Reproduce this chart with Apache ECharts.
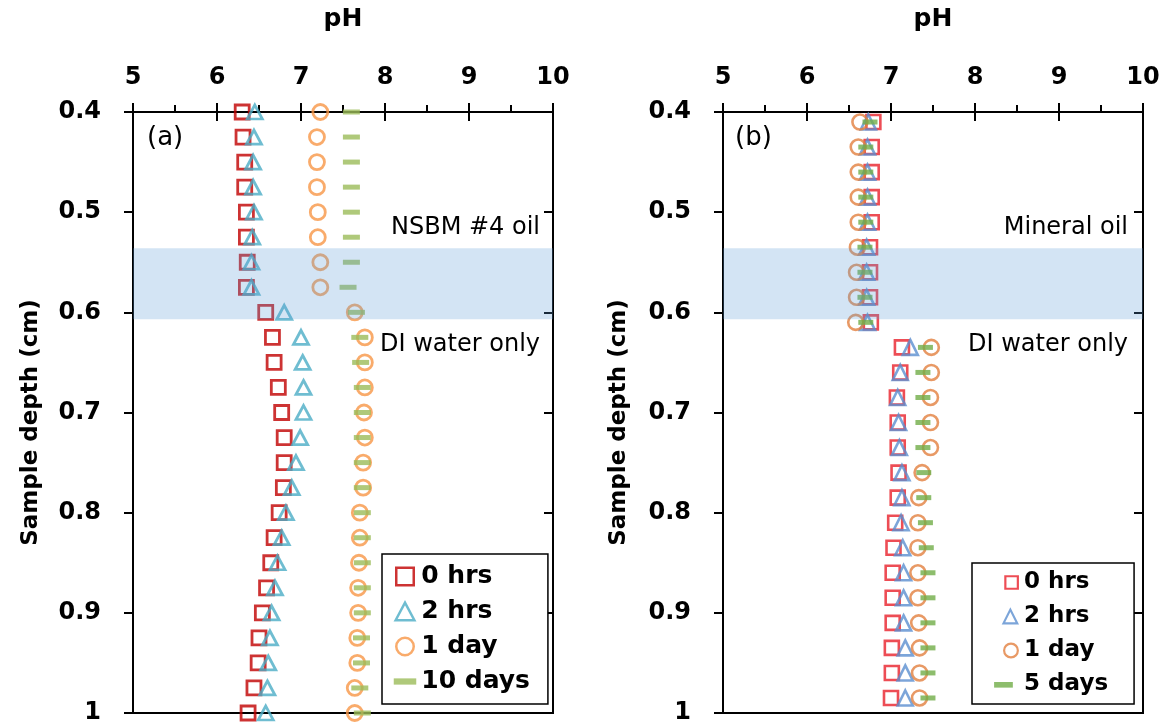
<!DOCTYPE html>
<html><head><meta charset="utf-8">
<script src="https://cdn.jsdelivr.net/npm/echarts@6/dist/echarts.min.js"></script>
<style>html,body{margin:0;padding:0;background:#fff}#c{width:1167px;height:727px}</style>
</head><body><div id="c"></div>
<script>
// ---------- DATA ----------
const xTickLabels = ['5','6','7','8','9','10'];
const yTickLabels = ['0.4','0.5','0.6','0.7','0.8','0.9','1'];
const seriesNamesA = ['0 hrs','2 hrs','1 day','10 days'];
const seriesNamesB = ['0 hrs','2 hrs','1 day','5 days'];
const oilBandA = [0.536, 0.607];
const oilBandB = [0.536, 0.607];

const depthA = [0.4,0.425,0.45,0.475,0.5,0.525,0.55,0.575,0.6,0.625,0.65,0.675,0.7,0.725,0.75,0.775,0.8,0.825,0.85,0.875,0.9,0.925,0.95,0.975,1.0];
const pHa0h  = [6.30,6.31,6.33,6.33,6.35,6.35,6.36,6.35,6.58,6.66,6.68,6.73,6.77,6.80,6.80,6.79,6.74,6.68,6.64,6.59,6.54,6.50,6.49,6.44,6.37];
const pHa2h  = [6.45,6.44,6.43,6.43,6.44,6.42,6.41,6.41,6.80,7.00,7.02,7.03,7.03,6.99,6.94,6.89,6.82,6.77,6.72,6.69,6.65,6.63,6.61,6.60,6.58];
const pHa1d  = [7.23,7.19,7.19,7.19,7.20,7.20,7.23,7.23,7.64,7.76,7.76,7.76,7.75,7.76,7.74,7.74,7.70,7.70,7.69,7.68,7.68,7.67,7.67,7.64,7.64];
const pHa10d = [7.60,7.60,7.60,7.60,7.60,7.60,7.60,7.56,7.66,7.70,7.71,7.73,7.73,7.73,7.73,7.73,7.73,7.73,7.73,7.73,7.73,7.72,7.72,7.70,7.73];

const depthB = [0.41,0.435,0.46,0.485,0.51,0.535,0.56,0.585,0.61,0.635,0.66,0.685,0.71,0.735,0.76,0.785,0.81,0.835,0.86,0.885,0.91,0.935,0.96,0.985];
const pHb0h = [6.79,6.77,6.77,6.77,6.77,6.75,6.75,6.75,6.76,7.13,7.11,7.07,7.08,7.08,7.09,7.08,7.05,7.03,7.02,7.02,7.02,7.01,7.01,7.00];
const pHb2h = [6.73,6.72,6.72,6.72,6.72,6.71,6.71,6.71,6.72,7.23,7.11,7.08,7.09,7.10,7.13,7.13,7.12,7.14,7.15,7.15,7.15,7.17,7.17,7.17];
const pHb1d = [6.63,6.61,6.61,6.61,6.61,6.60,6.59,6.59,6.58,7.48,7.48,7.47,7.47,7.47,7.37,7.33,7.32,7.32,7.32,7.32,7.33,7.34,7.34,7.34];
const pHb5d = [6.75,6.70,6.70,6.70,6.70,6.69,6.69,6.69,6.70,7.41,7.38,7.38,7.38,7.38,7.39,7.39,7.41,7.42,7.44,7.44,7.44,7.44,7.44,7.44];

// ---------- CHART ----------
const FONT = 'DejaVu Sans';
const pairs = (xs, ys) => xs.map((x, i) => [x, ys[i]]);

function xAxes(gridIndex) {
  return [
    { gridIndex, type:'value', position:'top', min:5, max:10, interval:1,
      name:'pH', nameLocation:'middle', nameGap:80,
      nameTextStyle:{fontFamily:FONT, fontWeight:'bold', fontSize:25, color:'#000'},
      axisLine:{onZero:false, lineStyle:{color:'#000', width:2}},
      axisTick:{show:true, inside:false, length:9, lineStyle:{color:'#000', width:2}},
      minorTick:{show:true, splitNumber:2, length:7, lineStyle:{color:'#000', width:2}},
      axisLabel:{margin:22, fontFamily:FONT, fontWeight:'bold', fontSize:24, color:'#000',
        formatter:(v)=>xTickLabels[Math.round(v-5)]},
      splitLine:{show:false}},
    { gridIndex, type:'value', position:'top', min:5, max:10, interval:1,
      axisLine:{show:false, onZero:false},
      axisTick:{show:true, inside:true, length:9, lineStyle:{color:'#000', width:2}},
      axisLabel:{show:false}, splitLine:{show:false}}
  ];
}
function yAxes(gridIndex, nameGap) {
  return [
    { gridIndex, type:'value', inverse:true, min:0.4, max:1, interval:0.1,
      name:'Sample depth (cm)', nameLocation:'middle', nameGap, nameRotate:90,
      nameTextStyle:{fontFamily:FONT, fontWeight:'bold', fontSize:23, color:'#000', padding:[0,20,0,0]},
      axisLine:{onZero:false, lineStyle:{color:'#000', width:2}},
      axisTick:{show:true, inside:false, length:9, lineStyle:{color:'#000', width:2}},
      axisLabel:{margin:32, fontFamily:FONT, fontWeight:'bold', fontSize:24, color:'#000',
        formatter:(v)=>yTickLabels[Math.round((v-0.4)*10)]},
      splitLine:{show:false}},
    { gridIndex, type:'value', inverse:true, min:0.4, max:1, interval:0.1,
      axisLine:{show:false, onZero:false},
      axisTick:{show:true, inside:true, length:9, lineStyle:{color:'#000', width:2}},
      axisLabel:{show:false}, splitLine:{show:false}}
  ];
}

function hollow(name, xi, yi, data, symbol, size, color, bw) {
  return { name, type:'scatter', xAxisIndex:xi, yAxisIndex:yi, data, symbol, symbolSize:size,
    itemStyle:{color:'rgba(255,255,255,0)', borderColor:color, borderWidth:bw}, z:2, silent:true };
}
function dash(name, xi, yi, data, size, color) {
  return { name, type:'scatter', xAxisIndex:xi, yAxisIndex:yi, data, symbol:'rect', symbolSize:size,
    itemStyle:{color}, z:3, silent:true };
}
function band(xi, yi, b) {
  return { type:'scatter', xAxisIndex:xi, yAxisIndex:yi, data:[], z:10, silent:true,
    markArea:{ silent:true, z:10, itemStyle:{color:'rgba(91,155,213,0.27)'},
      data:[[{xAxis:5, yAxis:b[0]}, {xAxis:10, yAxis:b[1]}]] } };
}

const colA = ['#c00000','#4bacc6','#f79646','#9bbb59'];
const colB = ['#e8202a','#5b8fd0','#e2803f','#70ad47'];
const SQA = 'path://M0,0 M20,16 M4,1 L18,1 L18,15 L4,15 Z';
const TRA = 'path://M0,0 M20,16 M3.5,15 L11,1 L18.5,15 Z';
const CIA = 'path://M0,0 M20,16 M18,8 A7,7 0 1 1 4,8 A7,7 0 1 1 18,8 Z';
const DAA = 'path://M0,0 M20,16 M2,5.5 L20,5.5 L20,10.5 L2,10.5 Z';
const SQB = 'path://M0,0 M24,12 M13,1 L23,1 L23,11 L13,11 Z';
const TRB = 'path://M0,0 M24,12 M11.5,11.5 L17,0.5 L22.5,11.5 Z';
const CIB = 'path://M0,0 M24,12 M23,6 A5.5,5.5 0 1 1 12,6 A5.5,5.5 0 1 1 23,6 Z';
const DAB = 'path://M0,0 M24,12 M4,4 L19,4 L19,8.5 L4,8.5 Z';

const nB = seriesNamesB.map(s => s + ' ');

const option = {
  backgroundColor:'#fff',
  animation:false,
  grid:[
    {left:133, top:112, width:420, height:601, show:true, borderColor:'#000', borderWidth:2},
    {left:723, top:112, width:420, height:601, show:true, borderColor:'#000', borderWidth:2}
  ],
  xAxis:[...xAxes(0), ...xAxes(1)],
  yAxis:[...yAxes(0, 90), ...yAxes(1, 92)],
  legend:[
    { left:382, top:554, orient:'vertical', selectedMode:false,
      padding:[10,18,10,8], itemWidth:25, itemHeight:20, itemGap:10,
      backgroundColor:'#fff', borderColor:'#000', borderWidth:1.5,
      textStyle:{fontFamily:FONT, fontWeight:'bold', fontSize:25, lineHeight:25, color:'#000'},
      data:[
        {name:seriesNamesA[0], icon:SQA, itemStyle:{color:'#fff', borderColor:colA[0], borderWidth:2.5}},
        {name:seriesNamesA[1], icon:TRA, itemStyle:{color:'#fff', borderColor:colA[1], borderWidth:2.5}},
        {name:seriesNamesA[2], icon:CIA, itemStyle:{color:'#fff', borderColor:colA[2], borderWidth:2.5}},
        {name:seriesNamesA[3], icon:DAA, itemStyle:{color:colA[3], borderWidth:0}}
      ]},
    { left:972, top:563, orient:'vertical', selectedMode:false,
      padding:[8,26,8,16], itemWidth:30, itemHeight:15, itemGap:11,
      backgroundColor:'#fff', borderColor:'#000', borderWidth:1.5,
      formatter:(n)=>n.trim(),
      textStyle:{fontFamily:FONT, fontWeight:'bold', fontSize:23, lineHeight:23, color:'#000'},
      data:[
        {name:nB[0], icon:SQB, itemStyle:{color:'#fff', borderColor:colB[0], borderWidth:2.2}},
        {name:nB[1], icon:TRB, itemStyle:{color:'#fff', borderColor:colB[1], borderWidth:2.2}},
        {name:nB[2], icon:CIB, itemStyle:{color:'#fff', borderColor:colB[2], borderWidth:2.2}},
        {name:nB[3], icon:DAB, itemStyle:{color:colB[3], borderWidth:0}}
      ]}
  ],
  series:[
    hollow(seriesNamesA[0], 0, 0, pairs(pHa0h, depthA), 'rect', 14, colA[0], 2.8),
    hollow(seriesNamesA[1], 0, 0, pairs(pHa2h, depthA), 'triangle', [15,14], colA[1], 2.8),
    hollow(seriesNamesA[2], 0, 0, pairs(pHa1d, depthA), 'circle', 15, colA[2], 2.8),
    dash(seriesNamesA[3], 0, 0, pairs(pHa10d, depthA), [17,5], colA[3]),
    band(0, 0, oilBandA),
    hollow(nB[0], 2, 2, pairs(pHb0h, depthB), 'rect', 14, colB[0], 2.6),
    hollow(nB[1], 2, 2, pairs(pHb2h, depthB), 'triangle', [15,15], colB[1], 2.6),
    hollow(nB[2], 2, 2, pairs(pHb1d, depthB), 'circle', 15, colB[2], 2.6),
    dash(nB[3], 2, 2, pairs(pHb5d, depthB), [15,5], colB[3]),
    band(2, 2, oilBandB)
  ],
  graphic:[
    {type:'text', x:147, y:138, z:100, style:{text:'(a)', font:'26px "DejaVu Sans"', fill:'#000', align:'left', verticalAlign:'middle'}},
    {type:'text', x:540, y:228, z:100, style:{text:'NSBM #4 oil', font:'24px "DejaVu Sans"', fill:'#000', align:'right', verticalAlign:'middle'}},
    {type:'text', x:540, y:345, z:100, style:{text:'DI water only', font:'24px "DejaVu Sans"', fill:'#000', align:'right', verticalAlign:'middle'}},
    {type:'text', x:735, y:138, z:100, style:{text:'(b)', font:'26px "DejaVu Sans"', fill:'#000', align:'left', verticalAlign:'middle'}},
    {type:'text', x:1128, y:228, z:100, style:{text:'Mineral oil', font:'24px "DejaVu Sans"', fill:'#000', align:'right', verticalAlign:'middle'}},
    {type:'text', x:1128, y:345, z:100, style:{text:'DI water only', font:'24px "DejaVu Sans"', fill:'#000', align:'right', verticalAlign:'middle'}}
  ]
};
const chart = echarts.init(document.getElementById('c'));
chart.setOption(option);
</script>
</body></html>
